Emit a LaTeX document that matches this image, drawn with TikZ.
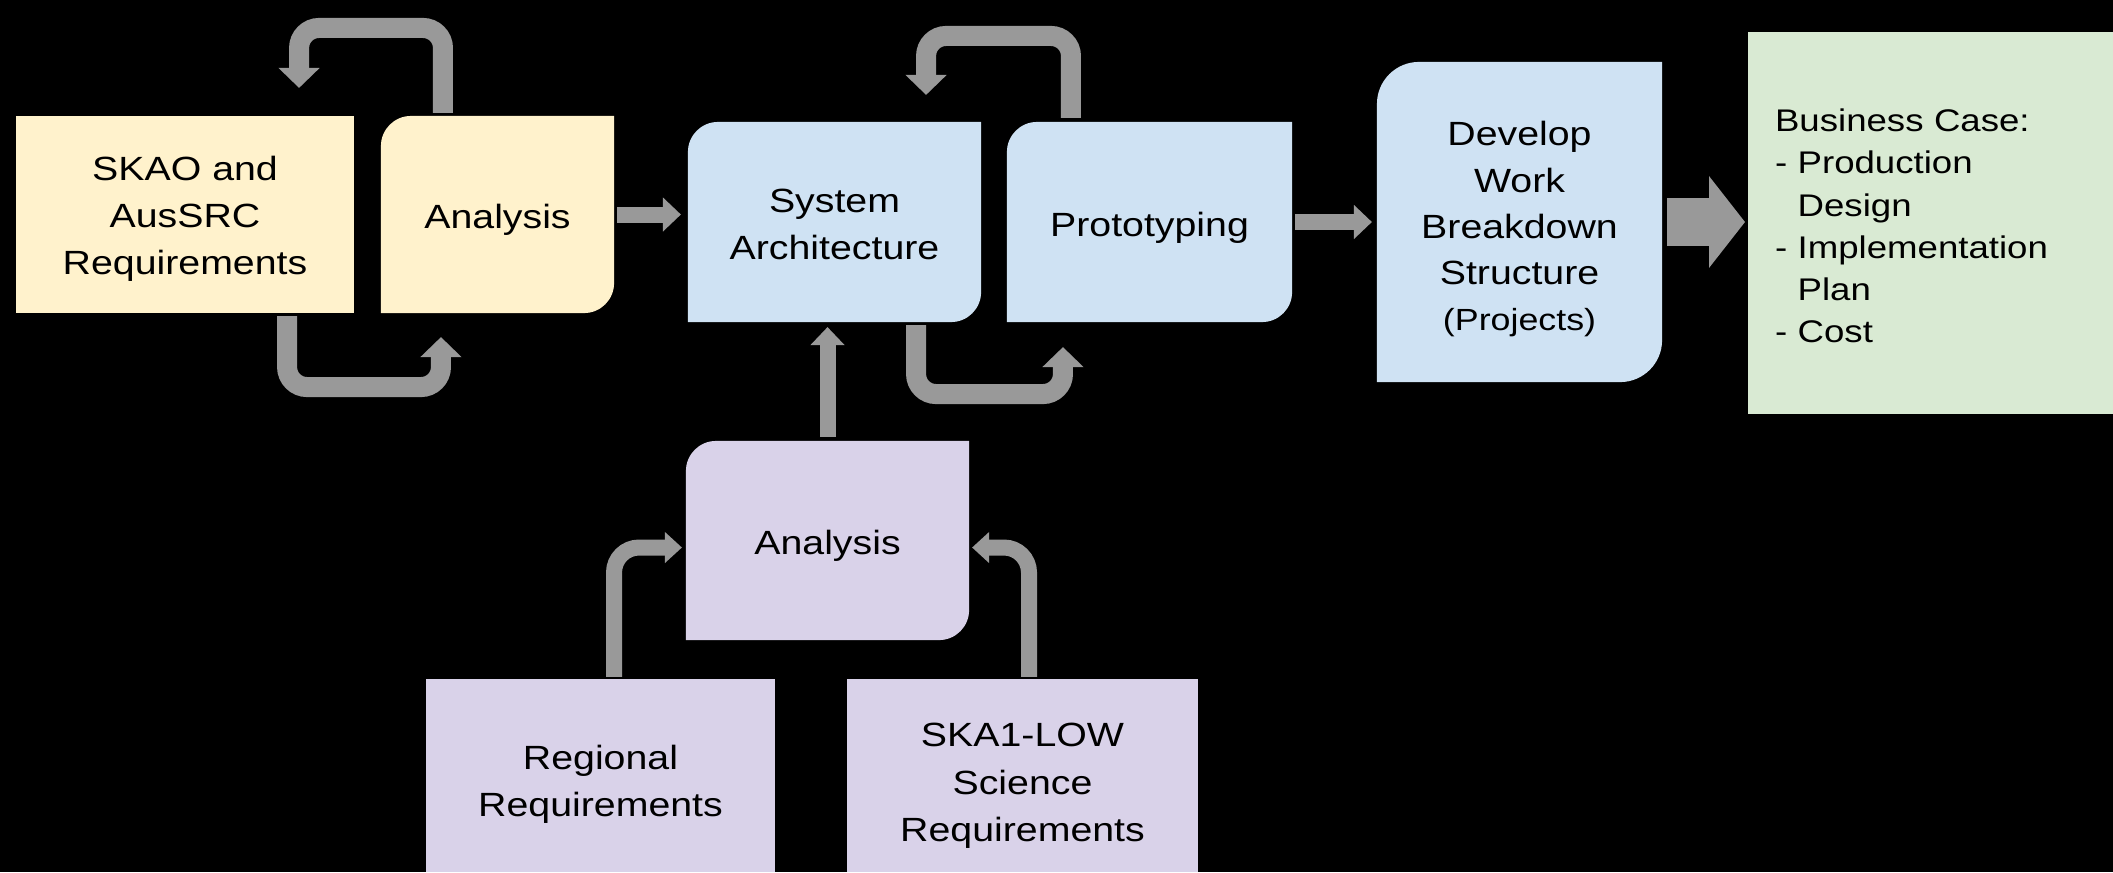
\documentclass[tikz,border=0pt]{standalone}
\usepackage{fontspec}
\setmainfont{Liberation Sans}[FakeStretch=1.17]
\usetikzlibrary{arrows.meta}
\pgfdeclarelayer{background}
\pgfsetlayers{background,main}
\definecolor{yellowbox}{HTML}{FFF2CC}
\definecolor{bluebox}{HTML}{CFE2F3}
\definecolor{purplebox}{HTML}{D9D2E9}
\definecolor{greenbox}{HTML}{D9EAD3}
\definecolor{arrowgray}{HTML}{999999}
% lowers a node's text by raising its first line
\newcommand{\capstrut}[1]{\rule{0pt}{#1}}

\begin{document}
\begin{tikzpicture}[x=0.01cm, y=0.01cm,
    box/.style={inner sep=0pt, outer sep=0pt, align=center, font=\fontsize{9.55}{13.37}\selectfont},
    loopback/.style={draw=arrowgray, line width=0.2cm, rounded corners=0.2cm, -{Triangle[width=0.4cm,length=0.2cm]}},
    flow/.style={draw=arrowgray, line width=0.16cm, -{Triangle[width=0.33cm,length=0.18cm]}},
    bent/.style={draw=arrowgray, line width=0.16cm, rounded corners=0.25cm, -{Triangle[width=0.3cm,length=0.17cm]}},
    bigflow/.style={draw=arrowgray, line width=0.47cm, -{Triangle[width=0.9cm,length=0.36cm]}}]
        \useasboundingbox (0,0) rectangle (2113,-872);

        % Yellow: requirements and first analysis
        \node[box, fill=yellowbox, minimum width=3.38cm, minimum height=1.97cm] (skao) at (185,-214.5)
          {\capstrut{9.5pt}SKAO and\\AusSRC\\Requirements};
        \node[box, minimum width=2.33cm, minimum height=1.97cm] (ana1) at (497.5,-214.5) {\capstrut{9.9pt}Analysis};

        % Blue: architecture, prototyping, WBS
        \node[box, minimum width=2.93cm, minimum height=2cm] (sysarch) at (834.5,-222) {\capstrut{8.1pt}System\\Architecture};
        \node[box, minimum width=2.85cm, minimum height=2cm] (proto) at (1149.5,-222) {\capstrut{10.2pt}Prototyping};
        \node[box, minimum width=2.85cm, minimum height=3.2cm, font=\fontsize{9.55}{13.17}\selectfont] (wbs) at (1519.5,-222)
          {\capstrut{11.1pt}Develop\\Work\\Breakdown\\Structure\\{\fontsize{8.7}{13.17}\selectfont(Projects)}};

        % Green: business case
        \node[box, fill=greenbox, anchor=north west, minimum width=3.65cm, minimum height=3.82cm,
          text width=3.11cm, inner xsep=0.27cm, align=left, font=\fontsize{8.9}{12.03}\selectfont] (bcase) at (1748,-32)
          {\capstrut{8.1pt}Business Case:\\- Production\\\hphantom{- }Design\\- Implementation\\\hphantom{- }Plan\\- Cost};

        % Purple: lower analysis and its inputs
        \node[box, minimum width=2.83cm, minimum height=1.99cm] (ana2) at (827.5,-540.5) {\capstrut{10.2pt}Analysis};
        \node[box, fill=purplebox, minimum width=3.49cm, minimum height=1.93cm] (regional) at (600.5,-775.5)
          {\capstrut{11.7pt}Regional\\Requirements};
        \node[box, fill=purplebox, minimum width=3.51cm, minimum height=1.93cm] (ska1low) at (1022.5,-775.5)
          {\capstrut{12.5pt}SKA1-LOW\\Science\\Requirements};

        % Black page and boxes with two rounded corners
        \begin{pgfonlayer}{background}
          \fill[black] (0,0) rectangle (2113,-872);
          \foreach \n/\c/\r in {ana1/yellowbox/0.3cm, sysarch/bluebox/0.3cm, proto/bluebox/0.3cm, wbs/bluebox/0.42cm, ana2/purplebox/0.3cm}
            \fill[\c] (\n.south west) -- ([yshift=-\r]\n.north west) arc[start angle=180, end angle=90, radius=\r]
              -- (\n.north east) -- ([yshift=\r]\n.south east) arc[start angle=0, end angle=-90, radius=\r] -- cycle;
        \end{pgfonlayer}

        % Loops between the yellow boxes
        \draw[loopback] ([xshift=0.62cm,yshift=0.03cm]ana1.north west) -- ++(0,85) -| ([xshift=2.83cm,yshift=0.28cm]skao.north west);
        \draw[loopback] ([xshift=2.71cm,yshift=-0.03cm]skao.south west) -- ++(0,-71) -| ([xshift=0.6cm,yshift=-0.24cm]ana1.south west);

        % Loops between the blue boxes
        \draw[loopback] ([xshift=0.64cm,yshift=0.04cm]proto.north west) -- ++(0,82) -| ([xshift=2.38cm,yshift=0.27cm]sysarch.north west);
        \draw[loopback] ([xshift=2.28cm,yshift=-0.03cm]sysarch.south west) -- ++(0,-69) -| ([xshift=0.56cm,yshift=-0.25cm]proto.south west);

        % Straight arrows
        \draw[flow] ([xshift=0.03cm]ana1.east) -- ([xshift=-0.07cm]ana1.east -| sysarch.west);
        \draw[flow] ([xshift=0.03cm]proto.east) -- ([xshift=-0.05cm]wbs.west);
        \draw[flow] ([yshift=0.04cm]ana2.north) -- ([yshift=-0.05cm]ana2.north |- sysarch.south);
        \draw[bigflow] ([xshift=0.05cm]wbs.east) -- ([xshift=-0.03cm]wbs.east -| bcase.west);

        % Inputs to the lower analysis
        \draw[bent] ([xshift=1.88cm,yshift=0.02cm]regional.north west) |- ([xshift=-0.04cm,yshift=-0.07cm]ana2.west);
        \draw[bent] ([xshift=1.82cm,yshift=0.02cm]ska1low.north west) |- ([xshift=0.03cm,yshift=-0.07cm]ana2.east);
\end{tikzpicture}
\end{document}
